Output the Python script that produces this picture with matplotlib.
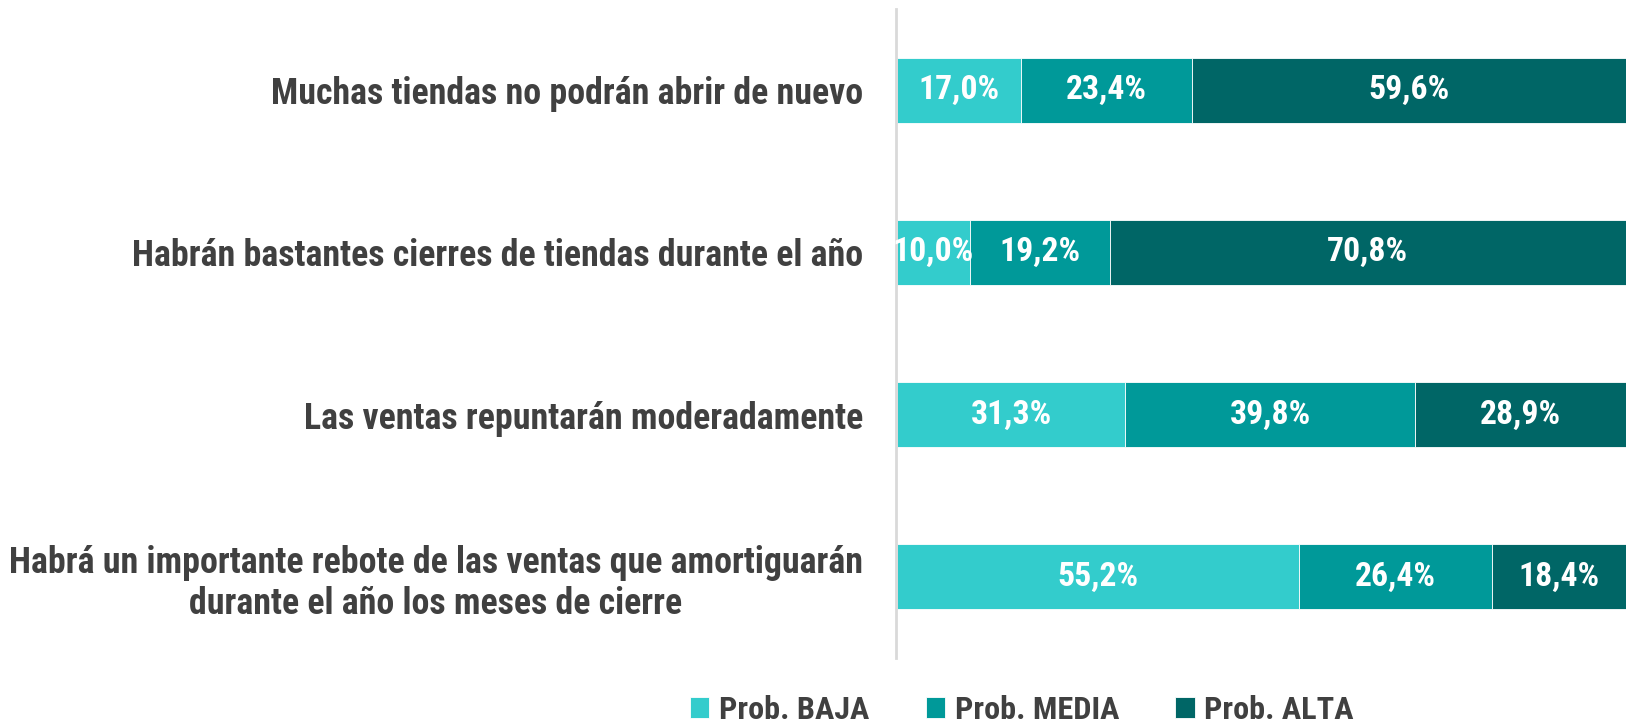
import matplotlib
matplotlib.use("Agg")
import matplotlib.pyplot as plt
from matplotlib import font_manager as fm
from matplotlib.font_manager import FontProperties

categories = [
    "Muchas tiendas no podrán abrir de nuevo",
    "Habrán bastantes cierres de tiendas durante el año",
    "Las ventas repuntarán moderadamente",
    "Habrá un importante rebote de las ventas que amortiguarán\ndurante el año los meses de cierre",
]
baja = [17.0, 10.0, 31.3, 55.2]
media = [23.4, 19.2, 39.8, 26.4]
alta = [59.6, 70.8, 28.9, 18.4]
series_names = ["Prob. BAJA", "Prob. MEDIA", "Prob. ALTA"]
colors = ["#33CCCC", "#009999", "#006666"]

# choose a narrow bold font if available
entries = fm.fontManager.ttflist
names = {f.name for f in entries}
fam, stretch = "Liberation Sans", "normal"
for cand in ["Liberation Sans Narrow", "Roboto Condensed", "Open Sans Condensed"]:
    if cand in names:
        fam = cand
        break
else:
    if any(f.name == "DejaVu Sans" and "Condensed" in f.fname and "Bold" in f.fname for f in entries):
        fam, stretch = "DejaVu Sans", "condensed"

W, H = 1626, 724
fig = plt.figure(figsize=(W / 100, H / 100), dpi=100)
renderer = fig.canvas.get_renderer()


def fit_size(s, target_px, base=20.0):
    fp = FontProperties(family=fam, weight="bold", stretch=stretch, size=base)
    t = fig.text(0, 0, s, fontproperties=fp)
    w = t.get_window_extent(renderer).width
    t.remove()
    return base * target_px / w


lab_size = min(fit_size(categories[0], 591), 26)
val_size = min(fit_size("17,0%", 81), 26)
leg_size = min(fit_size("Prob. BAJA", 150), 26)


def fp(size):
    return FontProperties(family=fam, weight="bold", stretch=stretch, size=size)


ax = fig.add_axes([897 / W, 1 - 658 / H, 1 - 897 / W, (658 - 9) / H])
for s in ["top", "right", "bottom"]:
    ax.spines[s].set_visible(False)
ax.spines["left"].set_color("#D9D9D9")
ax.spines["left"].set_linewidth(2)
ax.spines["left"].set_position(("outward", 1))

ypos = list(range(len(categories)))
left = [0.0] * len(categories)
for vals, name, col in zip([baja, media, alta], series_names, colors):
    ax.barh(ypos, vals, left=left, height=0.40, color=col, label=name,
            edgecolor="white", linewidth=0.6)
    for i, v in enumerate(vals):
        ax.text(left[i] + v / 2, ypos[i], f"{v:.1f}%".replace(".", ","),
                ha="center", va="center", color="white", fontproperties=fp(val_size))
    left = [l + v for l, v in zip(left, vals)]

ax.set_xlim(0, 100)
ax.set_ylim(len(categories) - 0.5, -0.5)
ax.tick_params(axis="y", length=0, pad=23.5)
ax.set_xticks([])
ax.set_yticks(ypos)
ax.set_yticklabels(categories, fontproperties=fp(lab_size), color="#404040",
                   multialignment="center")

leg = fig.legend(loc="center", bbox_to_anchor=(1022 / W, 1 - 710 / H), ncol=3, frameon=False,
                 prop=fp(leg_size), handlelength=0.6, handleheight=0.6,
                 columnspacing=1.75, handletextpad=0.3)
for t in leg.get_texts():
    t.set_color("#404040")

fig.savefig("out.png", dpi=100)
